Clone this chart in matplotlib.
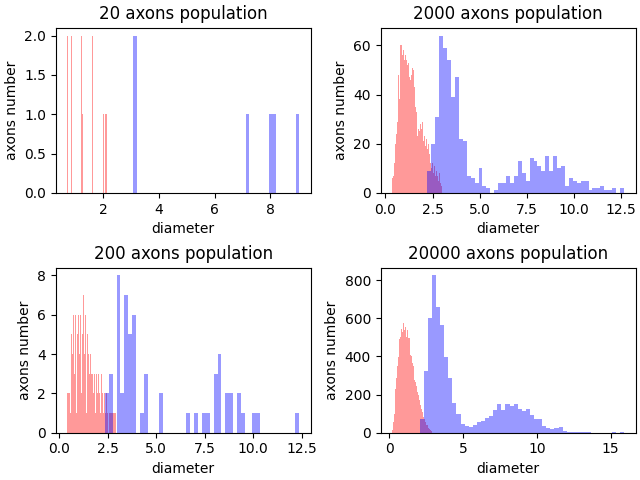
import numpy as np
import matplotlib
matplotlib.use("Agg")
import matplotlib.pyplot as plt

# bin counts, 50 bins per population
# (range given as [min, max] diameter of each population)

# 20 axons
red20_range = [0.71, 2.13]
red20_counts = [2, 0, 0, 0, 0, 2, 0, 0, 0, 0, 0, 0, 0, 0, 0, 0, 0, 2, 0, 1,
                0, 0, 0, 0, 0, 0, 0, 0, 0, 0, 0, 2, 0, 0, 0, 0, 0, 0, 0, 0,
                0, 0, 0, 0, 0, 1, 0, 0, 1, 1]
blue20_range = [3.08, 9.04]
blue20_counts = [2, 0, 0, 0, 0, 0, 0, 0, 0, 0, 0, 0, 0, 0, 0, 0, 0, 0, 0, 0,
                 0, 0, 0, 0, 0, 0, 0, 0, 0, 0, 0, 0, 0, 0, 1, 0, 0, 0, 0, 0,
                 0, 1, 1, 0, 0, 0, 0, 0, 0, 1]

# 2000 axons
red2000_range = [0.36, 3.01]
red2000_counts = [6, 7, 12, 20, 24, 29, 48, 38, 60, 60, 56, 58, 54, 56, 54, 52, 53, 47, 46, 48,
                  51, 50, 43, 35, 33, 23, 26, 25, 28, 26, 29, 21, 23, 19, 22, 18, 20, 16, 12, 10,
                  12, 8, 11, 7, 9, 7, 5, 8, 4, 3]
blue2000_range = [2.23, 12.66]
blue2000_counts = [9, 20, 31, 64, 59, 54, 39, 47, 22, 21, 7, 6, 4, 10, 3, 2, 0, 1, 4, 4,
                   7, 4, 7, 13, 8, 5, 14, 13, 11, 9, 15, 9, 15, 10, 11, 3, 6, 5, 4, 5,
                   5, 1, 2, 2, 3, 1, 1, 2, 0, 2]

# 200 axons
red200_range = [0.43, 2.91]
red200_counts = [2, 2, 2, 1, 5, 4, 6, 3, 6, 1, 5, 6, 4, 6, 2, 5, 7, 4, 6, 1,
                 5, 4, 3, 4, 2, 3, 3, 2, 3, 1, 3, 2, 3, 2, 1, 3, 2, 1, 2, 1,
                 2, 1, 0, 1, 1, 1, 1, 1, 1, 1]
blue200_range = [2.36, 12.36]
blue200_counts = [2, 3, 0, 8, 2, 7, 5, 6, 0, 1, 3, 0, 0, 0, 2, 0, 0, 0, 0, 0,
                  0, 1, 0, 1, 0, 1, 1, 0, 3, 4, 0, 2, 2, 0, 2, 1, 0, 0, 1, 1,
                  0, 0, 0, 0, 0, 0, 0, 0, 0, 1]

# 20000 axons
red20000_range = [0.2, 2.87]
red20000_counts = [14, 57, 100, 151, 229, 289, 349, 397, 444, 490, 504, 542, 564, 530, 575, 539, 556, 521, 504, 539,
                   496, 496, 473, 410, 404, 367, 349, 306, 277, 267, 246, 232, 212, 198, 169, 143, 143, 126, 108, 83,
                   74, 65, 57, 43, 40, 31, 26, 19, 14, 10]
blue20000_range = [2.06, 15.9]
blue20000_counts = [70, 325, 600, 825, 658, 565, 398, 288, 154, 98, 44, 35, 30, 40, 57, 62, 75, 88, 117, 148,
                    117, 153, 139, 153, 122, 112, 122, 91, 70, 70, 34, 26, 19, 26, 29, 9, 5, 3, 3, 2,
                    2, 2, 1, 0, 0, 0, 0, 3, 0, 3]

panels = [
    ("20 axons population", red20_range, red20_counts, blue20_range, blue20_counts),
    ("2000 axons population", red2000_range, red2000_counts, blue2000_range, blue2000_counts),
    ("200 axons population", red200_range, red200_counts, blue200_range, blue200_counts),
    ("20000 axons population", red20000_range, red20000_counts, blue20000_range, blue20000_counts),
]


def draw_hist(ax, rng, counts, color):
    edges = np.linspace(rng[0], rng[1], len(counts) + 1)
    ax.hist(edges[:-1], bins=edges, weights=counts, color=color, alpha=0.4)


fig, axes = plt.subplots(2, 2, figsize=(6.4, 4.8), dpi=100)
fig.subplots_adjust(left=0.0872, right=0.993, bottom=0.0985, top=0.9423,
                    wspace=0.2745, hspace=0.452)

for ax, (title, r_rng, r_cnt, b_rng, b_cnt) in zip(axes.flat, panels):
    draw_hist(ax, r_rng, r_cnt, "r")
    draw_hist(ax, b_rng, b_cnt, "b")
    ax.set_title(title)
    ax.set_xlabel("diameter")
    ax.set_ylabel("axons number")

plt.savefig("out.png")
